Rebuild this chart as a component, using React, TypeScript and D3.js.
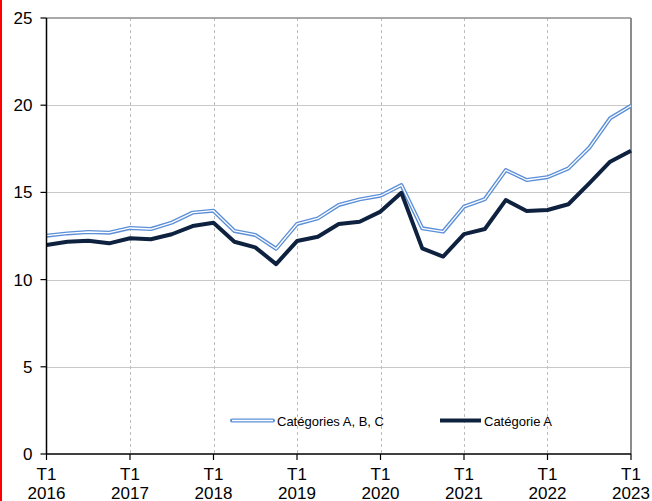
import React, { useEffect, useRef } from 'react'
import * as d3 from 'd3'

const years = ['2016', '2017', '2018', '2019', '2020', '2021', '2022', '2023']
const yTicks = [0, 5, 10, 15, 20, 25]

// trimestriel, T1 2016 -> T1 2023
const categoriesABC = [
  12.52, 12.65, 12.73, 12.69, 12.96, 12.9, 13.27, 13.84, 13.95, 12.79, 12.56, 11.77, 13.19, 13.51,
  14.28, 14.6, 14.81, 15.42, 12.94, 12.75, 14.18, 14.62, 16.28, 15.71, 15.87, 16.38, 17.56, 19.25, 19.97,
]
const categorieA = [
  11.98, 12.17, 12.23, 12.08, 12.37, 12.31, 12.6, 13.07, 13.26, 12.17, 11.85, 10.89, 12.21, 12.46,
  13.19, 13.32, 13.9, 14.98, 11.79, 11.32, 12.61, 12.9, 14.56, 13.93, 13.99, 14.32, 15.52, 16.76, 17.39,
]

const W = 652
const H = 501

export default function App() {
  const svgRef = useRef<SVGSVGElement>(null)

  useEffect(() => {
    const svg = d3.select(svgRef.current)
    svg.selectAll('*').remove()

    const x = d3.scaleLinear().domain([0, categorieA.length - 1]).range([46.5, 631])
    const y = d3.scaleLinear().domain([0, 25]).range([454, 18])
    const font = 'Liberation Sans, Arial, sans-serif'

    // red edge on the left
    svg.append('line').attr('x1', 1).attr('x2', 1).attr('y1', 0).attr('y2', H)
      .attr('stroke', '#ff0000').attr('stroke-width', 2)

    // horizontal grid
    svg.selectAll('.hgrid').data(yTicks.filter(d => d > 0 && d < 25)).join('line')
      .attr('x1', x(0)).attr('x2', x(28))
      .attr('y1', d => Math.round(y(d)) + 0.5).attr('y2', d => Math.round(y(d)) + 0.5)
      .attr('stroke', '#c8c8c8').attr('stroke-width', 1.2)

    // vertical dotted grid at each T1
    svg.selectAll('.vgrid').data(years.slice(1, -1)).join('line')
      .attr('x1', (d, i) => Math.round(x((i + 1) * 4)) + 0.5)
      .attr('x2', (d, i) => Math.round(x((i + 1) * 4)) + 0.5)
      .attr('y1', y(25)).attr('y2', y(0))
      .attr('stroke', '#bdbdbd').attr('stroke-width', 1).attr('stroke-dasharray', '3,3')

    // frame: top and right in gray
    svg.append('line').attr('x1', x(0)).attr('x2', x(28)).attr('y1', y(25)).attr('y2', y(25))
      .attr('stroke', '#8c8c8c').attr('stroke-width', 1.5)
    svg.append('line').attr('x1', x(28)).attr('x2', x(28)).attr('y1', y(25)).attr('y2', y(0))
      .attr('stroke', '#8c8c8c').attr('stroke-width', 2)

    const line = d3.line<number>().x((d, i) => x(i)).y(d => y(d))

    // double line for A, B, C
    svg.append('path').datum(categoriesABC).attr('d', line).attr('fill', 'none')
      .attr('stroke', '#5b8fd8').attr('stroke-width', 4).attr('stroke-linejoin', 'round')
    svg.append('path').datum(categoriesABC).attr('d', line).attr('fill', 'none')
      .attr('stroke', '#ffffff').attr('stroke-width', 1.3).attr('stroke-linejoin', 'round')

    svg.append('path').datum(categorieA).attr('d', line).attr('fill', 'none')
      .attr('stroke', '#0e2240').attr('stroke-width', 4).attr('stroke-linejoin', 'round')

    // y axis
    const yAxis = svg.append('g').attr('transform', 'translate(46.5,0)')
    yAxis.append('line').attr('y1', y(25)).attr('y2', y(0)).attr('stroke', '#000').attr('stroke-width', 1.5)
    yAxis.selectAll('.tick').data(yTicks).join('line')
      .attr('x1', -6).attr('x2', 0).attr('y1', d => y(d)).attr('y2', d => y(d))
      .attr('stroke', '#000').attr('stroke-width', 1.2)
    yAxis.selectAll('text').data(yTicks).join('text')
      .attr('x', -14).attr('y', d => y(d)).attr('dy', '0.35em')
      .attr('text-anchor', 'end').attr('font-family', font).attr('font-size', 17)
      .text(d => d)

    // x axis
    const xAxis = svg.append('g')
    xAxis.append('line').attr('x1', x(0)).attr('x2', x(28)).attr('y1', y(0)).attr('y2', y(0))
      .attr('stroke', '#000').attr('stroke-width', 1.5)
    xAxis.selectAll('.tick').data(years).join('line')
      .attr('x1', (d, i) => x(i * 4)).attr('x2', (d, i) => x(i * 4))
      .attr('y1', y(0)).attr('y2', y(0) + 6).attr('stroke', '#000').attr('stroke-width', 1.2)
    const lbl = xAxis.selectAll('text').data(years).join('text')
      .attr('x', (d, i) => x(i * 4)).attr('text-anchor', 'middle')
      .attr('font-family', font).attr('font-size', 17)
    lbl.append('tspan').attr('x', (d, i) => x(i * 4)).attr('y', 480).text('T1')
    lbl.append('tspan').attr('x', (d, i) => x(i * 4)).attr('y', 499).text(d => d)

    // legend
    const lg = svg.append('g').attr('font-family', font).attr('font-size', 13)
    lg.append('line').attr('x1', 232).attr('x2', 273).attr('y1', 420.5).attr('y2', 420.5)
      .attr('stroke', '#5b8fd8').attr('stroke-width', 4).attr('stroke-linecap', 'round')
    lg.append('line').attr('x1', 232).attr('x2', 273).attr('y1', 420.5).attr('y2', 420.5)
      .attr('stroke', '#fff').attr('stroke-width', 1.3)
    lg.append('text').attr('x', 277).attr('y', 421).attr('dy', '0.35em').text('Catégories A, B, C')
    lg.append('line').attr('x1', 440).attr('x2', 481).attr('y1', 420.5).attr('y2', 420.5)
      .attr('stroke', '#0e2240').attr('stroke-width', 4)
    lg.append('text').attr('x', 484).attr('y', 421).attr('dy', '0.35em').text('Catégorie A')
  }, [])

  return (
    <svg ref={svgRef} width={W} height={H}
      style={{ position: 'absolute', left: 0, top: 0, background: '#fff' }} />
  )
}
